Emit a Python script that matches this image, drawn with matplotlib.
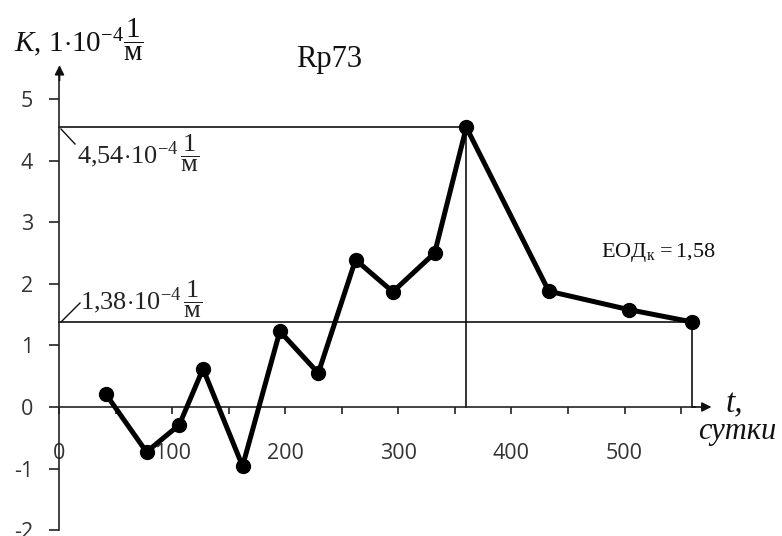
import matplotlib
matplotlib.use("Agg")
import matplotlib.pyplot as plt
from matplotlib.ticker import FixedLocator, FuncFormatter

# ---- data ----
t_days = [41, 77, 106, 127, 162, 195, 229, 262, 295, 332, 360, 433, 504, 560]
k_vals = [0.21, -0.73, -0.29, 0.62, -0.96, 1.23, 0.55, 2.39, 1.87, 2.50, 4.54, 1.88, 1.58, 1.38]
peak_t, peak_k = 360, 4.54
end_t, end_k = 560, 1.38
x_ticks = [0, 50, 100, 150, 200, 250, 300, 350, 400, 450, 500, 550]
x_labels = [0, 100, 200, 300, 400, 500]
y_ticks = [-2, -1, 0, 1, 2, 3, 4, 5]
title = "Rp73"
eod_text = r"$\mathrm{ЕОД}_{\mathrm{к}}\,=1{,}58$"

plt.rcParams['mathtext.fontset'] = 'custom'
plt.rcParams['mathtext.rm'] = 'Liberation Serif'
plt.rcParams['mathtext.it'] = 'Liberation Serif:italic'
plt.rcParams['mathtext.bf'] = 'Liberation Serif:bold'
plt.rcParams['axes.unicode_minus'] = False

W, H = 782, 536
fig = plt.figure(figsize=(W / 100, H / 100), dpi=100)
ax = fig.add_axes([0, 0, 1, 1])
ax.patch.set_alpha(0)

x0px, xs = 59.5, 1.13
y0px, ys = 407.0, 61.6
ax.set_xlim((0 - x0px) / xs, (W - x0px) / xs)
ax.set_ylim((y0px - H) / ys, y0px / ys)

for s in ['top', 'right']:
    ax.spines[s].set_visible(False)
ax.spines['left'].set_position(('data', 0))
ax.spines['bottom'].set_position(('data', 0))
ax.spines['left'].set_bounds(-2, 5.45)
ax.spines['bottom'].set_bounds(0, 562)
for s in ['left', 'bottom']:
    ax.spines[s].set_linewidth(1.2)
    ax.spines[s].set_color('#222222')

# arrows on axes
ax.annotate('', xy=(577, 0), xytext=(560, 0),
            arrowprops=dict(arrowstyle='-|>', color='#111111', lw=1.2,
                            mutation_scale=14, shrinkA=0, shrinkB=0))
ax.annotate('', xy=(0, 5.55), xytext=(0, 5.3),
            arrowprops=dict(arrowstyle='-|>', color='#111111', lw=1.2,
                            mutation_scale=14, shrinkA=0, shrinkB=0))

ax.xaxis.set_major_locator(FixedLocator(x_ticks))
ax.xaxis.set_major_formatter(FuncFormatter(
    lambda v, p: f"{int(round(v))}" if int(round(v)) in x_labels else ""))
ax.set_yticks(y_ticks)
ax.tick_params(axis='x', direction='out', length=5, width=1.2, pad=21,
               labelsize=15.5, labelcolor='#333333', color='#222222')
ax.tick_params(axis='y', direction='out', length=7, width=1.2, pad=12,
               labelsize=15.5, labelcolor='#333333', color='#222222')
for lab in ax.get_xticklabels() + ax.get_yticklabels():
    lab.set_fontfamily('Open Sans')

# reference lines
ax.plot([0, peak_t], [peak_k, peak_k], color='#111111', lw=1.2, zorder=2)
ax.plot([peak_t, peak_t], [0, peak_k], color='#111111', lw=1.2, zorder=2)
ax.plot([0, end_t], [end_k, end_k], color='#111111', lw=1.2, zorder=2)
ax.plot([end_t, end_t], [0, end_k], color='#111111', lw=1.2, zorder=2)

# data line
ax.plot(t_days, k_vals, color='black', lw=3.6, marker='o', markersize=10,
        zorder=4, solid_joinstyle='round')

def px(x, y):
    return x / W, 1 - y / H

# leader lines in pixel space
def pline(x1, y1, x2, y2):
    fig.add_artist(plt.Line2D([x1 / W, x2 / W], [1 - y1 / H, 1 - y2 / H],
                              color='#111111', lw=1.0, transform=fig.transFigure))

pline(61, 129, 75, 144)
pline(61, 322, 80, 303)

serif = 'Liberation Serif'
fig.text(*px(77, 153), r"$4{,}54{\cdot}10^{\mathrm{-4}}\,\dfrac{1}{\mathrm{м}}$",
         fontsize=19, ha='left', va='center', color='#222222')
fig.text(*px(80, 299), r"$1{,}38{\cdot}10^{\mathrm{-4}}\,\dfrac{1}{\mathrm{м}}$",
         fontsize=19, ha='left', va='center', color='#222222')
fig.text(*px(14, 40), r"$K,\,1{\cdot}10^{\mathrm{-4}}\dfrac{1}{\mathrm{м}}$",
         fontsize=21, ha='left', va='center', color='#111111')
fig.text(*px(329, 59), title, fontsize=22, family=serif, ha='center',
         va='center', color='#111111')
fig.text(*px(658, 253), eod_text, fontsize=16, ha='center', va='center',
         color='#111111')
fig.text(*px(726, 404), "t,", fontsize=24, family=serif, style='italic',
         ha='left', va='center', color='#111111')
fig.text(*px(737, 431), "сутки", fontsize=22, family=serif, style='italic',
         ha='center', va='center', color='#111111')

fig.savefig("out.png", dpi=100)
